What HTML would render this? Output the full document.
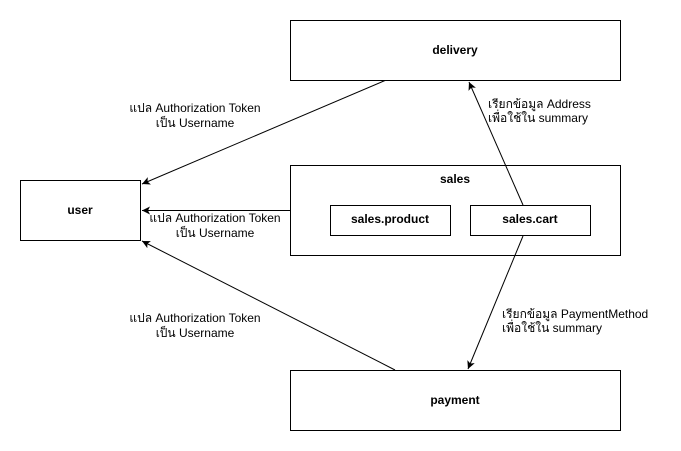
<!DOCTYPE html>
<html><head><meta charset="utf-8"><style>
html,body{margin:0;padding:0;background:#fff;}
svg{display:block;}
text{font-family:"Liberation Sans","DejaVu Sans",sans-serif;font-size:12px;fill:#000;}
.b{font-weight:bold;}
</style></head><body>
<svg width="681" height="451" viewBox="0 0 681 451" xmlns="http://www.w3.org/2000/svg">
<defs><marker id="a" markerWidth="10" markerHeight="10" refX="8" refY="4" orient="auto" markerUnits="userSpaceOnUse"><path d="M0,0 L8,4 L0,8 L2,4 z" fill="#000"/></marker></defs>
<g fill="#fff" stroke="#000" stroke-width="1">
<rect x="290.5" y="20.5" width="330" height="60"/>
<rect x="20.5" y="180.5" width="120" height="60"/>
<rect x="290.5" y="165.5" width="330" height="90"/>
<rect x="330.5" y="205.5" width="120" height="30"/>
<rect x="470.5" y="205.5" width="120" height="30"/>
<rect x="290.5" y="370.5" width="330" height="60"/>
</g>
<g stroke="#000" stroke-width="1" fill="none" marker-end="url(#a)">
<line x1="385" y1="80.5" x2="142" y2="184"/>
<line x1="290" y1="210.5" x2="142" y2="210.5"/>
<line x1="395" y1="370" x2="142" y2="241"/>
<line x1="523" y1="205" x2="469" y2="82"/>
<line x1="523" y1="236" x2="468" y2="369"/>
</g>
<g class="b" text-anchor="middle">
<text x="455" y="54">delivery</text>
<text x="80" y="214">user</text>
<text x="455" y="183">sales</text>
<text x="390" y="223">sales.product</text>
<text x="530" y="223">sales.cart</text>
<text x="455" y="404">payment</text>
</g>
<g text-anchor="middle">
<text x="195" y="112">แปล Authorization Token</text>
<text x="195" y="127">เป็น Username</text>
<text x="215" y="222">แปล Authorization Token</text>
<text x="215" y="237">เป็น Username</text>
<text x="195" y="322">แปล Authorization Token</text>
<text x="195" y="337">เป็น Username</text>
</g>
<text x="488" y="108">เรียกข้อมูล Address</text>
<text x="488" y="122">เพื่อใช้ใน summary</text>
<text x="502" y="318">เรียกข้อมูล PaymentMethod</text>
<text x="502" y="332">เพื่อใช้ใน summary</text>
</svg>
</body></html>
